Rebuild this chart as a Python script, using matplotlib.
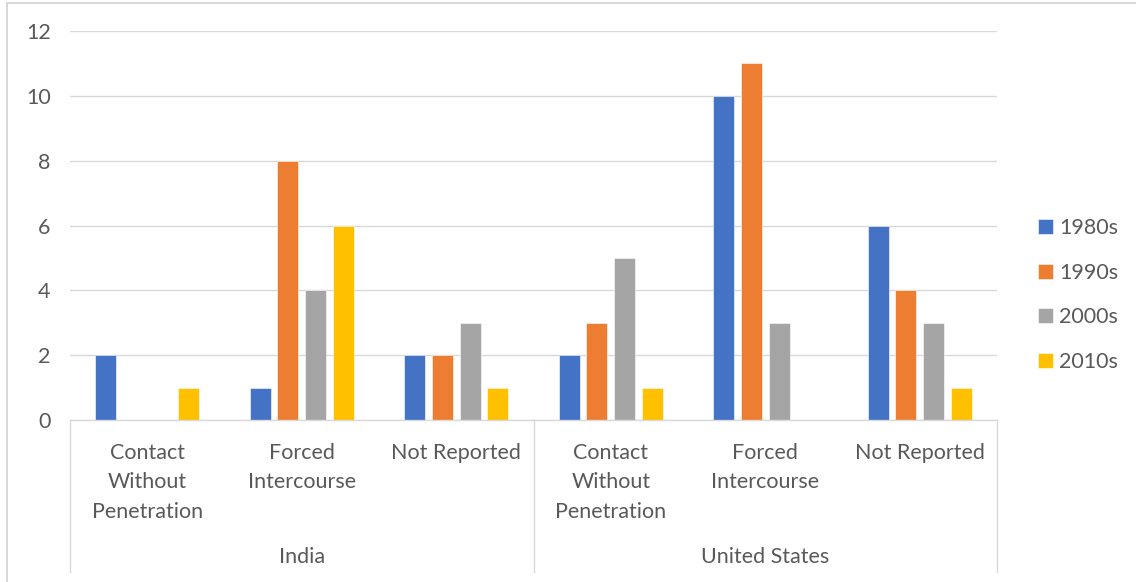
import matplotlib.pyplot as plt
import numpy as np
from matplotlib.patches import Rectangle

plt.rcParams['font.family'] = ['Lato', 'DejaVu Sans']

# data
countries = ["India", "United States"]
types = ["Contact\nWithout\nPenetration", "Forced\nIntercourse", "Not Reported"]
decades = ["1980s", "1990s", "2000s", "2010s"]
v1980 = [2, 1, 2, 2, 10, 6]
v1990 = [0, 8, 2, 3, 11, 4]
v2000 = [0, 4, 3, 5, 3, 3]
v2010 = [1, 6, 1, 1, 0, 1]
colors = ["#4472C4", "#ED7D31", "#A5A5A5", "#FFC000"]

series = [v1980, v1990, v2000, v2010]
txt = "#595959"
fs = 15.5
W, H = 1136, 582

fig = plt.figure(figsize=(W / 100, H / 100), dpi=100)
ax = fig.add_axes([70 / W, 1 - 420 / H, (997 - 70) / W, (420 - 31) / H])

x = np.arange(6)
step = 0.179
bw = 0.136
for i, (vals, c) in enumerate(zip(series, colors)):
    ax.bar(x + (i - 1.5) * step, vals, bw, color=c, label=decades[i],
           edgecolor="white", linewidth=0.4, zorder=3)

ax.set_xlim(-0.5, 5.5)
ax.set_ylim(0, 12)
ax.set_yticks(range(0, 13, 2))
ax.tick_params(axis="y", length=0, labelsize=fs, labelcolor=txt, pad=14)
ax.set_xticks([])
ax.grid(axis="y", color="#d9d9d9", linewidth=1, zorder=0)
for s in ax.spines.values():
    s.set_visible(False)

# multi-level category axis
bot = -(572 - 420) / (420 - 31)
ax.plot([-0.5, 5.5], [0, 0], color="#d9d9d9", lw=1, clip_on=False, zorder=4)
tr = ax.get_xaxis_transform()
for xv in [-0.5, 2.5, 5.5]:
    ax.plot([xv, xv], [0, bot], color="#d9d9d9", lw=1, transform=tr, clip_on=False)
for k in range(6):
    ax.text(k, -(443 - 420) / 389, types[k % 3], transform=tr, ha="center", va="top",
            fontsize=fs, color=txt, linespacing=1.58)
for j, name in enumerate(countries):
    ax.text(1 + 3 * j, -(557 - 420) / 389, name, transform=tr, ha="center",
            va="center", fontsize=fs, color=txt)

leg = ax.legend(loc="center left", bbox_to_anchor=(1019 / W, 1 - 295 / H),
                bbox_transform=fig.transFigure, frameon=False, fontsize=fs,
                handlelength=0.7, handleheight=0.7, handletextpad=0.25,
                labelspacing=1.15, labelcolor=txt)

# chart border
fig.patches.append(Rectangle((7 / W, -0.01), 1.2, 1 - 3 / H + 0.01,
                             transform=fig.transFigure, fill=False,
                             edgecolor="#d9d9d9", lw=1.5))

fig.savefig("out.png", dpi=100)
